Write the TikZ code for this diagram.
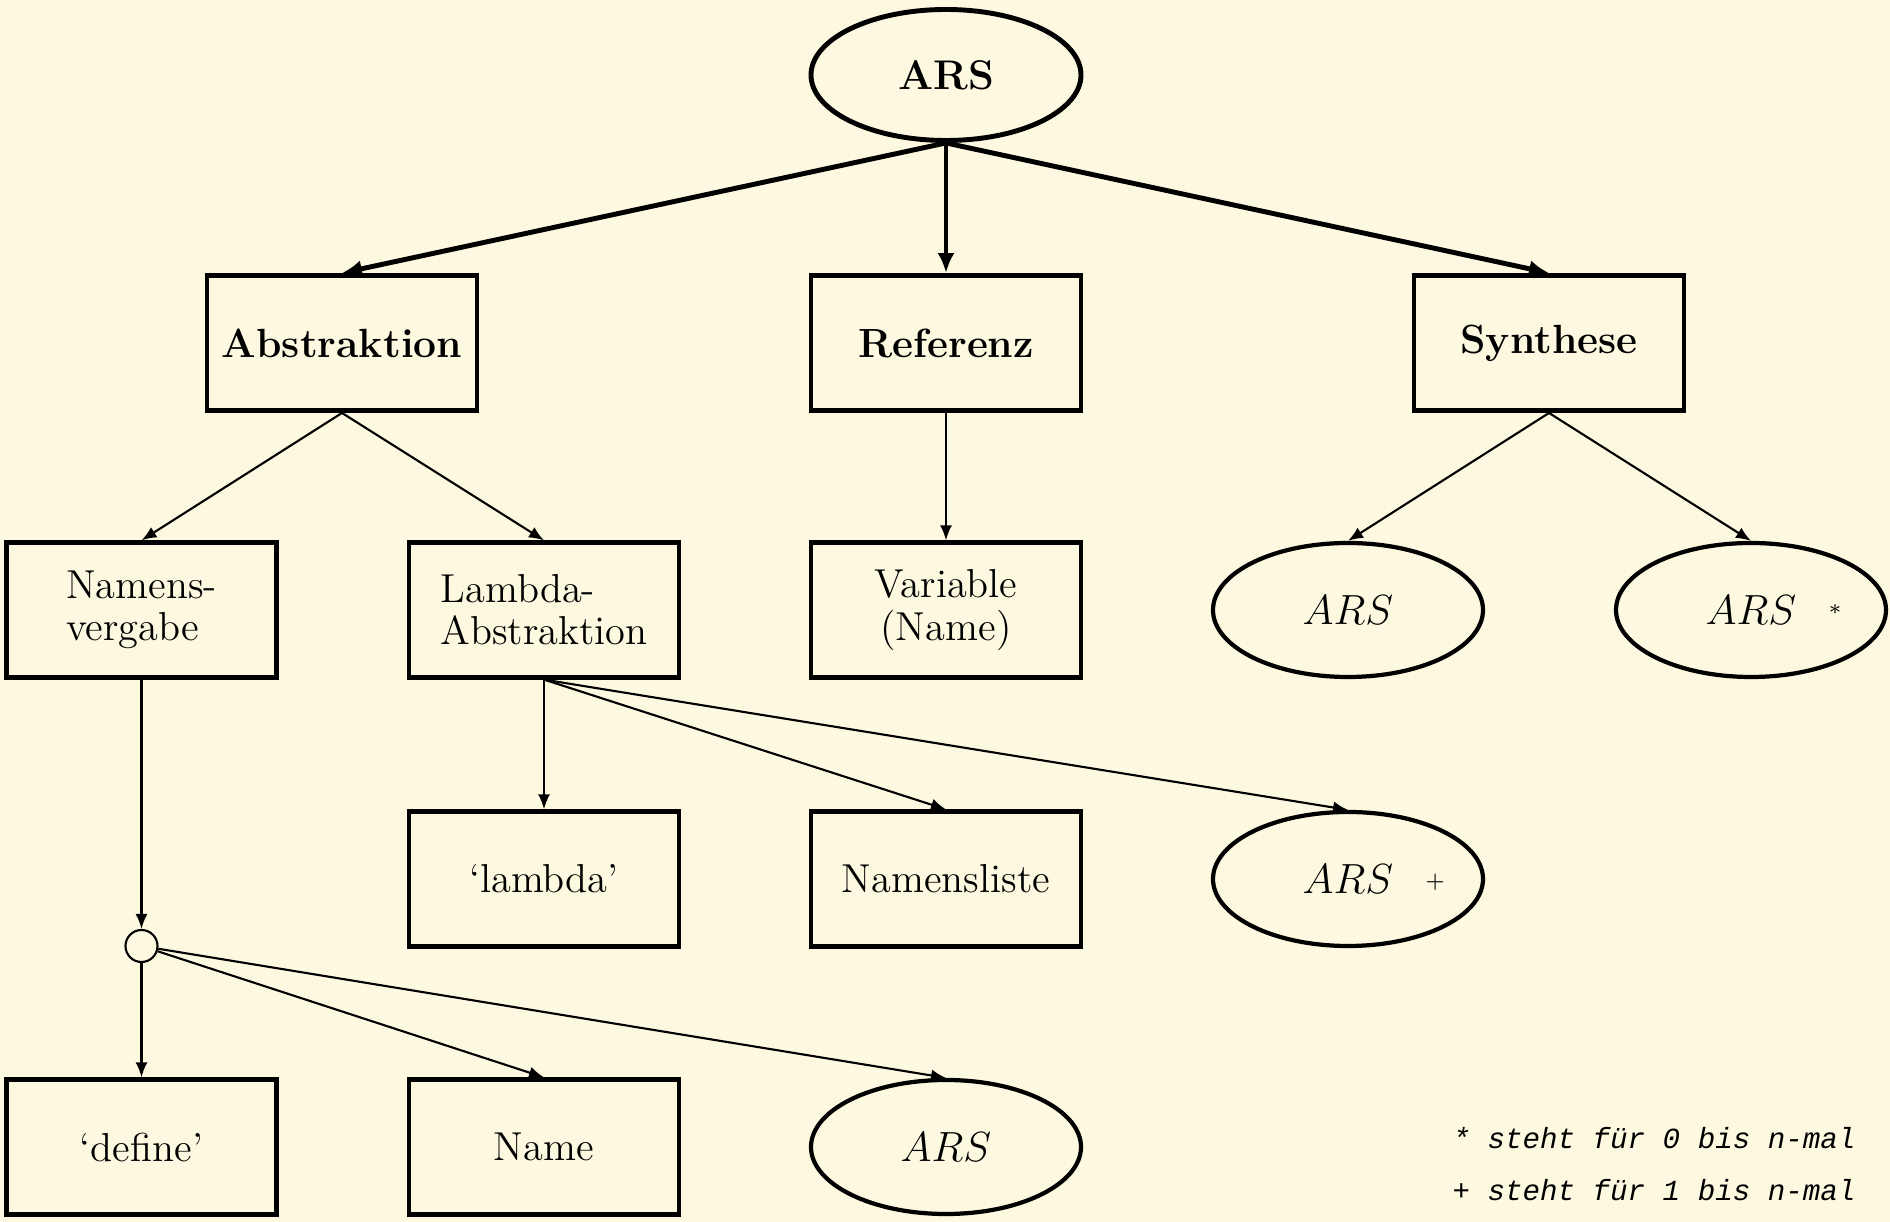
\documentclass[tikz,border=0pt]{standalone}
\usepackage{fontspec}
\newfontfamily\legendfont{Liberation Mono}
\usepackage{tikz}
\usetikzlibrary{positioning, shapes.geometric, arrows, arrows.meta}
\definecolor{paperYellow}{RGB}{253,249,224}
\tikzstyle{normalBox} = [shape=rectangle, draw=black, text=black, line width=1.2pt,
	align=center, minimum width=2.7cm, minimum height=1.35cm, font=\fontsize{11.5}{12}\selectfont]
\tikzstyle{boldBox} = [normalBox, line width=1.4pt, font=\fontsize{11.6}{14}\selectfont\bfseries]
\tikzstyle{normalEllipse} = [shape=ellipse, draw=black, text=black, line width=1.2pt,
	inner sep=0pt, minimum width=2.7cm, minimum height=1.34cm, font=\fontsize{12.8}{15}\selectfont]
\tikzstyle{boldEllipse} = [normalEllipse, line width=1.4pt, minimum height=1.31cm, font=\fontsize{11.8}{14}\selectfont\bfseries]
\tikzstyle{normalArrow} = [line width=0.6pt, -{Latex[length=1.5mm,width=1.2mm]}, draw=black]
\tikzstyle{boldArrow} = [line width=1.4pt, -{Latex[length=2mm,width=1.7mm]}, draw=black]
\tikzstyle{legendText} = [anchor=west, text=black, inner sep=0pt, font=\legendfont\itshape\fontsize{8.3}{10}\selectfont]
\newcommand{\repMark}[2]{\rlap{\hspace{0.32cm}\raisebox{#2}{$\scriptscriptstyle #1$}}}

\begin{document}
\begin{tikzpicture}
  \fill[paperYellow] (0,0) rectangle (18.9,-12.22);
  \useasboundingbox (0,0) rectangle (18.9,-12.22);

  \node (ARS) at (9.46,-0.75) [boldEllipse] {ARS};

  \node (abstr) at (3.42,-3.43) [boldBox] {Abstraktion};
  \node (refer) at (9.46,-3.43) [boldBox] {Referenz};
  \node (synth) at (15.49,-3.43) [boldBox] {Synthese};

  \node (namVer) at (1.415,-6.10) [normalBox, align=left] {Namens-\\vergabe};
  \node (lamAbs) at (5.44,-6.10) [normalBox, align=left] {Lambda-\\Abstraktion};
  \node (varName) at (9.46,-6.10) [normalBox] {Variable\\(Name)};
  \node (synARS) at (13.48,-6.10) [normalEllipse] {$ARS$};
  \node (synARSstar) at (17.51,-6.10) [normalEllipse] {$ARS$\repMark{\ast}{0.5ex}};

  \node (lamWord) at (5.44,-8.79) [normalBox] {`lambda'};
  \node (namList) at (9.46,-8.79) [normalBox] {Namensliste};
  \node (lamARSplus) at (13.48,-8.79) [normalEllipse] {$ARS$\repMark{+}{0.3ex}};

  \node (split) at (1.415,-9.46) [circle, draw=black, line width=0.6pt, minimum size=0.32cm, inner sep=0pt] {};

  \node (defWord) at (1.415,-11.47) [normalBox] {`define'};
  \node (name) at (5.44,-11.47) [normalBox] {Name};
  \node (defARS) at (9.46,-11.47) [normalEllipse] {$ARS$};

  \node (legendStar) at (14.52,-11.38) [legendText] {* steht für 0 bis n-mal};
  \node (legendPlus) at (14.52,-11.90) [legendText] {+ steht für 1 bis n-mal};

  \draw [boldArrow] (ARS.south) -- (abstr.north);
  \draw [boldArrow] (ARS.south) -- (refer.north);
  \draw [boldArrow] (ARS.south) -- (synth.north);

  \draw [normalArrow] (abstr.south) -- (namVer.north);
  \draw [normalArrow] (abstr.south) -- (lamAbs.north);
  \draw [normalArrow] (refer.south) -- (varName.north);
  \draw [normalArrow] (synth.south) -- (synARS.north);
  \draw [normalArrow] (synth.south) -- (synARSstar.north);

  \draw [normalArrow] (lamAbs.south) -- (lamWord.north);
  \draw [normalArrow] (lamAbs.south) -- (namList.north);
  \draw [normalArrow] (lamAbs.south) -- (lamARSplus.north);

  \draw [normalArrow] (namVer.south) -- (split.north);
  \draw [normalArrow] (split) -- (defWord.north);
  \draw [normalArrow] (split) -- (name.north);
  \draw [normalArrow] (split) -- (defARS.north);
\end{tikzpicture}
\end{document}
